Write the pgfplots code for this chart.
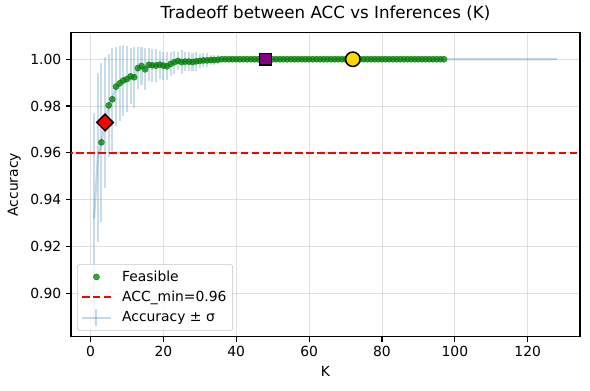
\documentclass[border=0pt]{standalone}
\usepackage{fontspec}
\setmainfont{DejaVu Sans}
\usepackage{pgfplots}
\pgfplotsset{compat=1.18}
\usepackage{pgfplotstable}

\definecolor{tabblue}{RGB}{31,119,180}
\definecolor{feasgreen}{RGB}{0,128,0}
\definecolor{goldc}{RGB}{255,215,0}
\definecolor{purp}{RGB}{128,0,128}

% K, mean accuracy, std
\pgfplotstableread[row sep=\\]{
K acc std\\
1 0.932 0.045\\ 2 0.958 0.036\\ 3 0.9645 0.034\\ 4 0.973 0.028\\
5 0.9803 0.022\\ 6 0.9829 0.022\\ 7 0.9883 0.017\\ 8 0.9897 0.016\\
9 0.9909 0.015\\ 10 0.9915 0.014\\ 11 0.9927 0.012\\ 12 0.9923 0.013\\
13 0.9962 0.009\\ 14 0.9971 0.008\\ 15 0.9957 0.009\\ 16 0.9976 0.007\\
17 0.9974 0.007\\ 18 0.9973 0.007\\ 19 0.9977 0.006\\ 20 0.9973 0.006\\
21 0.9970 0.006\\ 22 0.9980 0.005\\ 23 0.9987 0.005\\ 24 0.9993 0.004\\
25 0.9988 0.005\\ 26 0.9990 0.004\\ 27 0.9990 0.004\\ 28 0.9988 0.004\\
29 0.9991 0.004\\ 30 0.9993 0.003\\ 31 0.9995 0.003\\ 32 0.9995 0.003\\
33 0.9997 0.002\\ 34 0.9997 0.002\\ 35 0.9998 0.002\\ 36 1.0 0\\
37 1.0 0\\ 38 1.0 0\\ 39 1.0 0\\ 40 1.0 0\\ 41 1.0 0\\ 42 1.0 0\\
43 1.0 0\\ 44 1.0 0\\ 45 1.0 0\\ 46 1.0 0\\ 47 1.0 0\\ 48 1.0 0\\
49 1.0 0\\ 50 1.0 0\\ 51 1.0 0\\ 52 1.0 0\\ 53 1.0 0\\ 54 1.0 0\\
55 1.0 0\\ 56 1.0 0\\ 57 1.0 0\\ 58 1.0 0\\ 59 1.0 0\\ 60 1.0 0\\
61 1.0 0\\ 62 1.0 0\\ 63 1.0 0\\ 64 1.0 0\\ 65 1.0 0\\ 66 1.0 0\\
67 1.0 0\\ 68 1.0 0\\ 69 1.0 0\\ 70 1.0 0\\ 71 1.0 0\\ 72 1.0 0\\
73 1.0 0\\ 74 1.0 0\\ 75 1.0 0\\ 76 1.0 0\\ 77 1.0 0\\ 78 1.0 0\\
79 1.0 0\\ 80 1.0 0\\ 81 1.0 0\\ 82 1.0 0\\ 83 1.0 0\\ 84 1.0 0\\
85 1.0 0\\ 86 1.0 0\\ 87 1.0 0\\ 88 1.0 0\\ 89 1.0 0\\ 90 1.0 0\\
91 1.0 0\\ 92 1.0 0\\ 93 1.0 0\\ 94 1.0 0\\ 95 1.0 0\\ 96 1.0 0\\
97 1.0 0\\ 98 1.0 0\\ 99 1.0 0\\ 100 1.0 0\\ 101 1.0 0\\ 102 1.0 0\\
103 1.0 0\\ 104 1.0 0\\ 105 1.0 0\\ 106 1.0 0\\ 107 1.0 0\\ 108 1.0 0\\
109 1.0 0\\ 110 1.0 0\\ 111 1.0 0\\ 112 1.0 0\\ 113 1.0 0\\ 114 1.0 0\\
115 1.0 0\\ 116 1.0 0\\ 117 1.0 0\\ 118 1.0 0\\ 119 1.0 0\\ 120 1.0 0\\
121 1.0 0\\ 122 1.0 0\\ 123 1.0 0\\ 124 1.0 0\\ 125 1.0 0\\ 126 1.0 0\\
127 1.0 0\\ 128 1.0 0\\
}\accdata

\begin{document}
\begin{tikzpicture}
\path[use as bounding box] (-51.1pt,-38.4pt) rectangle (373.7pt,242.4pt);
\begin{axis}[
    at={(0,0)}, anchor=south west,
    scale only axis,
    width=366.5pt, height=218.9pt,
    xmin=-5.35, xmax=134.35,
    ymin=0.88145, ymax=1.01137,
    xtick={0,20,...,120},
    ytick={0.90,0.92,0.94,0.96,0.98,1.00},
    xtick pos=bottom, ytick pos=left,
    yticklabel style={/pgf/number format/.cd, fixed, fixed zerofill, precision=2},
    /pgf/number format/assume math mode=true,
    tick align=outside,
    major tick length=3.5pt,
    tick style={black, line width=0.8pt},
    axis line style={line width=0.8pt},
    ticklabel style={font=\fontsize{10}{12}\selectfont},
    grid=major,
    major grid style={color=gray!60, opacity=0.4, line width=0.6pt},
    title={Tradeoff between ACC vs Inferences (K)},
    title style={font=\fontsize{12}{14}\selectfont, yshift=-1pt},
    xlabel={K}, ylabel={Accuracy},
    label style={font=\fontsize{10}{12}\selectfont},
    legend cell align=left,
    legend style={
        at={(0.012,0.019)}, anchor=south west,
        draw=gray!45, rounded corners=2pt,
        fill=white, fill opacity=0.8, text opacity=1,
        font=\fontsize{10}{12}\selectfont,
        row sep=1.5pt, inner sep=2.5pt
    },
]
% mean line with error bars
\addplot[tabblue, opacity=0.27, line width=1.5pt, no marks, forget plot,
    error bars/.cd, y dir=both, y explicit, error mark=none,
    error bar style={tabblue, opacity=0.25, line width=1.5pt}]
    table[x=K, y=acc, y error=std] {\accdata};
% feasible points
\addplot[only marks, mark=*, mark size=2.2pt, forget plot,
    mark options={draw=feasgreen, fill=feasgreen, opacity=0.75},
    restrict x to domain=3:97]
    table[x=K, y=acc] {\accdata};
% threshold
\addplot[red, line width=1.5pt, dash pattern=on 5.5pt off 2.4pt, forget plot]
    coordinates {(-10,0.96) (140,0.96)};
% highlighted choices
\addplot[only marks, mark=square*, mark size=4.2pt, forget plot,
    mark options={rotate=45, fill=red, draw=black, line width=1.1pt}]
    coordinates {(4,0.973)};
\addplot[only marks, mark=square*, mark size=4.3pt, forget plot,
    mark options={fill=purp, draw=black, line width=1.1pt}]
    coordinates {(48,1.0)};
\addplot[only marks, mark=*, mark size=5.2pt, forget plot,
    mark options={fill=goldc, draw=black, line width=1.1pt}]
    coordinates {(72,1.0)};

\addlegendimage{legend image code/.code={
    \path[draw=none, fill=none] (0pt,0pt) -- (27pt,0pt);
    \fill[feasgreen, opacity=0.75] (10.5pt,0pt) circle (2.2pt);}}
\addlegendentry{Feasible}
\addlegendimage{legend image code/.code={
    \path[draw=none, fill=none] (0pt,0pt) -- (27pt,0pt);
    \draw[red, line width=1.5pt, dash pattern=on 5.5pt off 2.4pt] (0pt,0pt) -- (21pt,0pt);}}
\addlegendentry{ACC\_min=0.96}
\addlegendimage{legend image code/.code={
    \path[draw=none, fill=none] (0pt,0pt) -- (27pt,0pt);
    \draw[tabblue, opacity=0.27, line width=1.5pt] (0pt,0pt) -- (21pt,0pt);
    \draw[tabblue, opacity=0.27, line width=1.5pt] (10.5pt,-6pt) -- (10.5pt,6pt);}}
\addlegendentry{Accuracy ± σ}
\end{axis}
\end{tikzpicture}
\end{document}
